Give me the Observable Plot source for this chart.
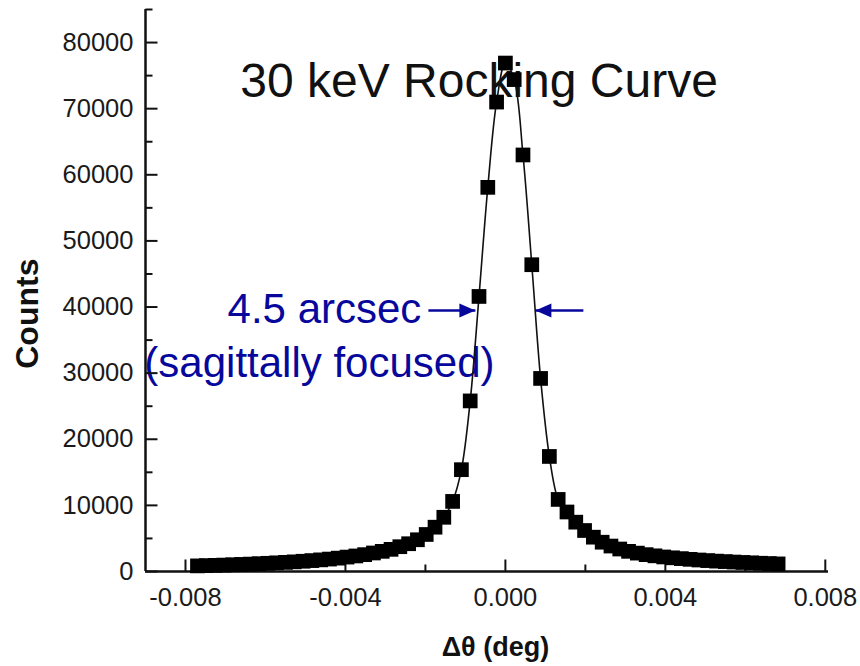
<!DOCTYPE html>
<html>
<head>
<meta charset="utf-8">
<script src="https://cdn.jsdelivr.net/npm/d3@7"></script>
<script src="https://cdn.jsdelivr.net/npm/@observablehq/plot@0.6"></script>
<style>
  html, body { margin: 0; padding: 0; background: #fff; }
  #chart svg { display: block; }
</style>
</head>
<body>
<div id="chart"></div>
<script>
// Δθ (deg) sample positions
const theta = [
  -0.0077, -0.00748, -0.00726, -0.00704, -0.00682, -0.0066, -0.00638, -0.00616,
  -0.00594, -0.00572, -0.0055, -0.00528, -0.00506, -0.00484, -0.00462, -0.0044,
  -0.00418, -0.00396, -0.00374, -0.00352, -0.0033, -0.00308, -0.00286, -0.00264,
  -0.00242, -0.0022, -0.00198, -0.00176, -0.00154, -0.00132, -0.0011, -0.00088,
  -0.00066, -0.00044, -0.00022, 0,
  0.00022, 0.00044, 0.00066, 0.00088, 0.0011, 0.00132, 0.00154, 0.00176,
  0.00198, 0.0022, 0.00242, 0.00264, 0.00286, 0.00308, 0.0033, 0.00352,
  0.00374, 0.00396, 0.00418, 0.0044, 0.00462, 0.00484, 0.00506, 0.00528,
  0.0055, 0.00572, 0.00594, 0.00616, 0.00638, 0.0066, 0.00682
];
// Counts
const counts = [
  850, 890, 930, 970, 1020, 1070, 1120, 1180,
  1240, 1310, 1380, 1460, 1550, 1650, 1760, 1880,
  2020, 2180, 2350, 2550, 2800, 3050, 3350, 3750,
  4200, 4800, 5600, 6700, 8200, 10600, 15400, 25800,
  41600, 58100, 71000, 76900,
  74400, 63000, 46400, 29200, 17400, 10900, 9000, 7460,
  6200, 5190, 4430, 3850, 3400, 3050, 2780, 2550,
  2370, 2200, 2070, 1950, 1840, 1740, 1650, 1570,
  1500, 1430, 1370, 1310, 1250, 1200, 1150
];

const xDomain = [-0.009, 0.00808];
const yDomain = [0, 85000];
const xMajorTicks = [-0.008, -0.004, 0.000, 0.004, 0.008];
const xMinorTicks = [-0.006, -0.002, 0.002, 0.006];
const yMajorTicks = [0, 10000, 20000, 30000, 40000, 50000, 60000, 70000, 80000];
const yMinorTicks = [5000, 15000, 25000, 35000, 45000, 55000, 65000, 75000, 85000];

const titleText = ["30 keV Rocking Curve"];
const titlePos = [{x: -0.00663, y: 71840}];
const noteLines = ["4.5 arcsec", "(sagittally focused)"];
const notePos = [{x: -0.004525, y: 37660}, {x: -0.00465, y: 29490}];
const yLabel = ["Counts"];
const yLabelPos = [{x: -0.01195, y: 39000}];
const xLabel = ["Δθ (deg)"];
const xLabelPos = [{x: -0.00025, y: -12850}];
// FWHM arrows: tail and tip
const arrowsRight = [{x1: -0.001925, x2: -0.00075, y: 39475}];
const arrowsLeft = [{x1: 0.00195, x2: 0.00075, y: 39475}];

// layout
const W = 860, H = 666, mL = 145, mR = 32, mT = 9, mB = 95;
const yPerPx = (yDomain[1] - yDomain[0]) / (H - mT - mB);
const xPerPx = (xDomain[1] - xDomain[0]) / (W - mL - mR);
const majorLen = 12, minorLen = 7;

const data = theta.map((t, i) => ({theta: t, counts: counts[i]}));
const blue = "#07079c";
const font = "'Liberation Sans', Arial, Helvetica, sans-serif";

const headRight = {draw(c) { c.moveTo(0, 0); c.lineTo(-16, -7); c.lineTo(-16, 7); c.closePath(); }};
const headLeft = {draw(c) { c.moveTo(0, 0); c.lineTo(16, -7); c.lineTo(16, 7); c.closePath(); }};

const tickStyle = {stroke: "#111", strokeWidth: 2};

const chart = Plot.plot({
  width: W,
  height: H,
  marginLeft: mL,
  marginRight: mR,
  marginTop: mT,
  marginBottom: mB,
  style: {fontFamily: font, background: "#fff"},
  x: {domain: xDomain},
  y: {domain: yDomain},
  marks: [
    Plot.axisX(xMajorTicks, {tickSize: 0, tickPadding: 16, tickFormat: d => d.toFixed(3), fontSize: 25.5, fill: "#1a1a1a", label: null}),
    Plot.axisY(yMajorTicks, {tickSize: 0, tickPadding: 12, tickFormat: d => String(d), fontSize: 25.5, fill: "#1a1a1a", label: null}),
    Plot.text(titleText, {x: (d, i) => titlePos[i].x, y: (d, i) => titlePos[i].y, textAnchor: "start", lineAnchor: "bottom", fontSize: 48, fill: "#111"}),
    Plot.text(noteLines, {x: (d, i) => notePos[i].x, y: (d, i) => notePos[i].y, textAnchor: "middle", lineAnchor: "bottom", fontSize: 42, fill: blue}),
    Plot.link(arrowsRight, {x1: "x1", x2: "x2", y1: "y", y2: "y", stroke: blue, strokeWidth: 2.5}),
    Plot.link(arrowsLeft, {x1: "x1", x2: "x2", y1: "y", y2: "y", stroke: blue, strokeWidth: 2.5}),
    Plot.dot(arrowsRight, {x: "x2", y: "y", symbol: headRight, fill: blue, stroke: "none"}),
    Plot.dot(arrowsLeft, {x: "x2", y: "y", symbol: headLeft, fill: blue, stroke: "none"}),
    Plot.text(yLabel, {x: (d, i) => yLabelPos[i].x, y: (d, i) => yLabelPos[i].y, rotate: -90, textAnchor: "middle", lineAnchor: "middle", fontSize: 32, fontWeight: "bold", fill: "#111"}),
    Plot.text(xLabel, {x: (d, i) => xLabelPos[i].x, y: (d, i) => xLabelPos[i].y, textAnchor: "middle", lineAnchor: "bottom", fontSize: 27, fontWeight: "bold", fill: "#111"}),
    // inward ticks
    Plot.link(xMajorTicks, {x1: d => d, x2: d => d, y1: yDomain[0], y2: yDomain[0] + majorLen * yPerPx, ...tickStyle}),
    Plot.link(xMinorTicks, {x1: d => d, x2: d => d, y1: yDomain[0], y2: yDomain[0] + minorLen * yPerPx, ...tickStyle}),
    Plot.link(yMajorTicks, {y1: d => d, y2: d => d, x1: xDomain[0], x2: xDomain[0] + majorLen * xPerPx, ...tickStyle}),
    Plot.link(yMinorTicks, {y1: d => d, y2: d => d, x1: xDomain[0], x2: xDomain[0] + minorLen * xPerPx, ...tickStyle}),
    Plot.ruleY([yDomain[0]], {stroke: "#111", strokeWidth: 2.5}),
    Plot.ruleX([xDomain[0]], {stroke: "#111", strokeWidth: 2.5}),
    Plot.line(data, {x: "theta", y: "counts", curve: "catmull-rom", stroke: "#111", strokeWidth: 1.6}),
    Plot.dot(data, {x: "theta", y: "counts", symbol: "square", r: 8.3, fill: "#000", stroke: "none"})
  ]
});
document.getElementById("chart").appendChild(chart);
</script>
</body>
</html>
